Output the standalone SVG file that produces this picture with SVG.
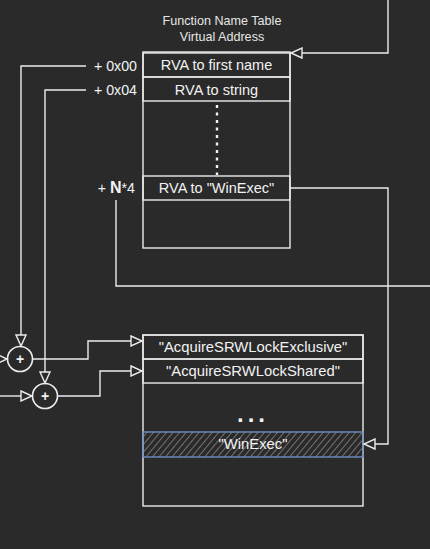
<svg xmlns="http://www.w3.org/2000/svg" width="430" height="549" viewBox="0 0 430 549">
<style>
.bg{fill:#2a2a2a}
.box{fill:none;stroke:#ececec;stroke-width:1.4}
.ln{fill:none;stroke:#ececec;stroke-width:1.4}
.t{font-family:"Liberation Sans",Arial,sans-serif;fill:#f2f2f2;font-size:14.5px;text-anchor:middle}
.t2{font-family:"Liberation Sans",Arial,sans-serif;fill:#f2f2f2;font-size:14.8px;text-anchor:middle}
.title{font-family:"Liberation Sans",Arial,sans-serif;fill:#e6e6e6;font-size:12.6px;text-anchor:middle}
.lab{font-family:"Liberation Sans",Arial,sans-serif;fill:#f2f2f2;font-size:14.2px;text-anchor:end}
.circ{fill:none;stroke:#ececec;stroke-width:1.6}
.plus{font-family:"Liberation Sans",Arial,sans-serif;fill:#f2f2f2;font-size:14px;font-weight:bold;text-anchor:middle}
</style>
<defs>
<marker id="arr" markerUnits="userSpaceOnUse" markerWidth="14" markerHeight="12" viewBox="0 0 14 12" refX="12" refY="6" orient="auto">
<path d="M1,1 L12,6 L1,11 Z" fill="#2a2a2a" stroke="#ececec" stroke-width="1.4"/>
</marker>
<pattern id="hatch" patternUnits="userSpaceOnUse" width="5" height="5" patternTransform="rotate(40)">
<line x1="0" y1="0" x2="0" y2="5" stroke="#9a9a9a" stroke-width="1.3"/>
</pattern>
</defs>
<rect class="bg" x="0" y="0" width="430" height="549"/>

<g id="title">
<text class="title" x="222" y="25">Function Name Table</text>
<text class="title" x="222" y="41">Virtual Address</text>
</g>

<g id="name-table">
<rect class="box" x="143" y="52" width="147" height="196"/>
<rect class="box" x="143" y="53" width="147" height="24"/>
<text class="t" x="216.5" y="70">RVA to first name</text>
<rect class="box" x="143" y="77" width="147" height="24"/>
<text class="t" x="216.5" y="95">RVA to string</text>
<line x1="217" y1="105" x2="217" y2="175" stroke="#f2f2f2" stroke-width="2.4" stroke-dasharray="3,4.5"/>
<rect class="box" x="143" y="176" width="147" height="24"/>
<text class="t" x="216.5" y="193">RVA to "WinExec"</text>
</g>

<g id="offsets">
<text class="lab" x="137" y="71">+ 0x00</text>
<text class="lab" x="137" y="95">+ 0x04</text>
<text class="lab" x="135" y="193">+ <tspan font-weight="bold" font-size="16px">N</tspan>*4</text>
</g>

<g id="string-table">
<rect class="box" x="143" y="335" width="220" height="171"/>
<rect class="box" x="143" y="335" width="220" height="24"/>
<text class="t2" x="253" y="352">"AcquireSRWLockExclusive"</text>
<rect class="box" x="143" y="359" width="220" height="24"/>
<text class="t2" x="253" y="376">"AcquireSRWLockShared"</text>
<text x="253" y="422" font-family="'Liberation Sans',Arial,sans-serif" font-size="24" font-weight="bold" fill="#f2f2f2" text-anchor="middle" letter-spacing="4">...</text>
<rect x="143" y="432" width="220" height="25" fill="url(#hatch)" stroke="#6c8ebf" stroke-width="1.4"/>
<text class="t2" x="253" y="449" fill="#e6e6e6">"WinExec"</text>
</g>

<g id="add1">
<circle class="circ" cx="20" cy="359" r="12.5"/>
<text class="plus" x="20" y="364">+</text>
</g>
<g id="add2">
<circle class="circ" cx="45" cy="396" r="12.5"/>
<text class="plus" x="45" y="401">+</text>
</g>

<g id="connectors">
<path class="ln" d="M388,0 V53 H291" marker-end="url(#arr)"/>
<path class="ln" d="M290,188 H388 V444 H364" marker-end="url(#arr)"/>
<path class="ln" d="M116,200 V286 H430"/>
<path class="ln" d="M86,66 H21 V346" marker-end="url(#arr)"/>
<path class="ln" d="M86,90 H45 V383" marker-end="url(#arr)"/>
<path class="ln" d="M0,359 H7" marker-end="url(#arr)"/>
<path class="ln" d="M0,396 H32" marker-end="url(#arr)"/>
<path class="ln" d="M33,359 H88 V341 H142" marker-end="url(#arr)"/>
<path class="ln" d="M58,396 H100 V371 H142" marker-end="url(#arr)"/>
</g>
</svg>
